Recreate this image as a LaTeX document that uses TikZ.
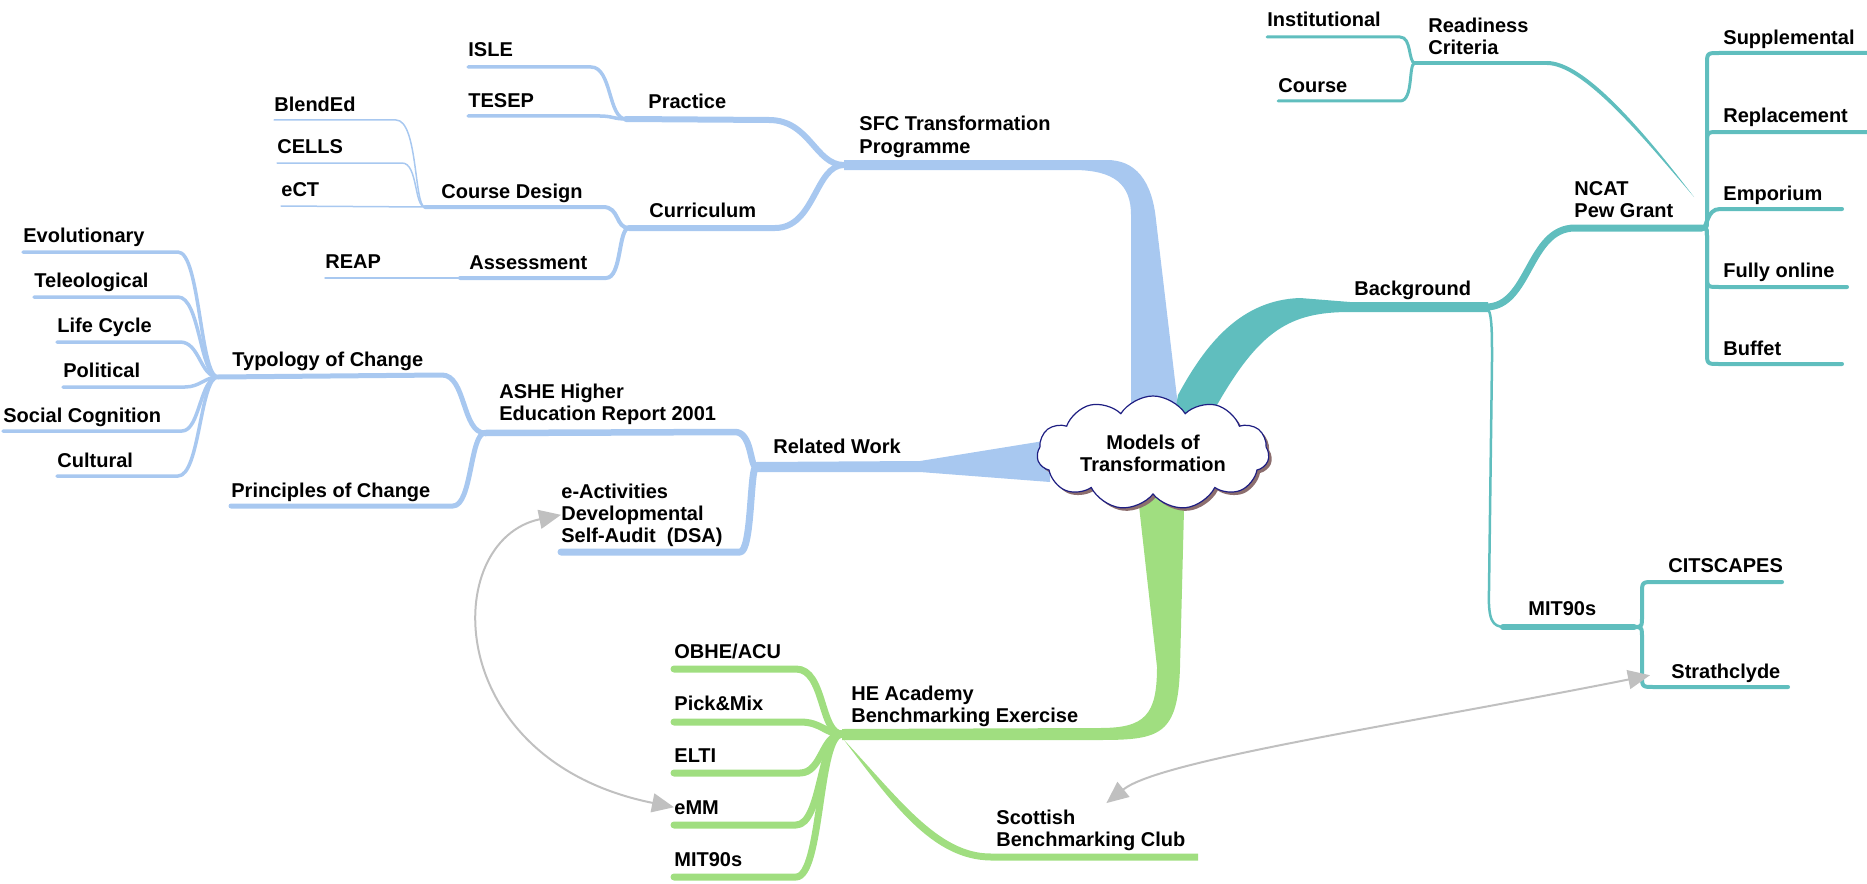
\documentclass[tikz,border=0pt]{standalone}
\usepackage{fontspec}
\setmainfont{Liberation Sans}
\usetikzlibrary{shapes.symbols,shadows,arrows.meta,calc}
\definecolor{mmblue}{RGB}{168,200,240}
\definecolor{mmteal}{RGB}{96,190,190}
\definecolor{mmgreen}{RGB}{160,222,128}
\definecolor{cloudline}{RGB}{30,30,130}
\definecolor{cloudshadow}{RGB}{140,110,110}
\definecolor{linkgray}{RGB}{192,192,192}
\tikzset{
  lbl/.style={font=\fontsize{10}{11}\selectfont\bfseries, inner sep=0pt, anchor=base west, align=left},
  brB/.style={draw=mmblue, line width=#1*0.5pt, line cap=round, line join=round},
  brT/.style={draw=mmteal, line width=#1*0.5pt, line cap=round, line join=round},
  brG/.style={draw=mmgreen, line width=#1*0.5pt, line cap=round, line join=round},
  link/.style={draw=linkgray, line width=1pt, {Triangle[length=11pt,width=9.5pt,fill=linkgray]}-{Triangle[length=11pt,width=9.5pt,fill=linkgray]}},
  rootcloud/.style={cloud, cloud puffs=11, cloud puff arc=115, cloud ignores aspect,
    minimum width=116pt, minimum height=57pt, inner sep=0pt, draw=cloudline, line width=0.6pt,
    fill=white, drop shadow={shadow xshift=1.5pt, shadow yshift=-1.5pt, fill=cloudshadow, opacity=1},
    font=\fontsize{10}{11}\selectfont\bfseries, align=center}
}
\begin{document}
\begin{tikzpicture}[x=0.5pt,y=-0.5pt]
\useasboundingbox (0,0) rectangle (1867,883);

% ---------- labels (base = baseline of last line) ----------
\node[lbl] (isle) at (468,57) {ISLE};
\node[lbl] (tesep) at (468,107) {TESEP};
\node[lbl] (practice) at (648,109) {Practice};
\node[lbl] (sfc) at (859,153) {SFC Transformation\\Programme};
\node[lbl] (blended) at (274,112) {BlendEd};
\node[lbl] (cells) at (277,154) {CELLS};
\node[lbl] (ect) at (281,196) {eCT};
\node[lbl] (coursedesign) at (441,198) {Course Design};
\node[lbl] (curriculum) at (649,217) {Curriculum};
\node[lbl] (reap) at (325,268) {REAP};
\node[lbl] (assessment) at (469,269) {Assessment};
\node[lbl] (evol) at (23,242) {Evolutionary};
\node[lbl] (teleo) at (34,287) {Teleological};
\node[lbl] (life) at (57,332) {Life Cycle};
\node[lbl] (political) at (63,377) {Political};
\node[lbl] (social) at (3,422) {Social Cognition};
\node[lbl] (cultural) at (57,467) {Cultural};
\node[lbl] (typology) at (232,366) {Typology of Change};
\node[lbl] (ashe) at (499,420) {ASHE Higher\\Education Report 2001};
\node[lbl] (related) at (773,453) {Related Work};
\node[lbl] (principles) at (231,497) {Principles of Change};
\node[lbl] (dsa) at (561,542) {e-Activities\\Developmental\\Self-Audit\ \ (DSA)};

\node[lbl] (institutional) at (1267,27) {Institutional};
\node[lbl] (course) at (1278,93) {Course};
\node[lbl] (readiness) at (1428,55) {Readiness\\Criteria};
\node[lbl] (supplemental) at (1723,45) {Supplemental};
\node[lbl] (replacement) at (1723,123) {Replacement};
\node[lbl] (emporium) at (1723,200) {Emporium};
\node[lbl] (fully) at (1723,277) {Fully online};
\node[lbl] (buffet) at (1723,355) {Buffet};
\node[lbl] (ncat) at (1574,217) {NCAT\\Pew Grant};
\node[lbl] (background) at (1354,295) {Background};
\node[lbl] (mitr) at (1528,615) {MIT90s};
\node[lbl] (citscapes) at (1668,572) {CITSCAPES};
\node[lbl] (strath) at (1671,678) {Strathclyde};

\node[lbl] (obhe) at (674,658) {OBHE/ACU};
\node[lbl] (pick) at (674,710) {Pick\&Mix};
\node[lbl] (elti) at (674,762) {ELTI};
\node[lbl] (emm) at (674,814) {eMM};
\node[lbl] (mitl) at (674,866) {MIT90s};
\node[lbl] (he) at (851,722) {HE Academy\\Benchmarking Exercise};
\node[lbl] (scot) at (996,846) {Scottish\\Benchmarking Club};

% ---------- junctions ----------
\coordinate (jPr) at (626,119);
\coordinate (jSF) at (844,165);
\coordinate (jCu) at (629,228);
\coordinate (jCD) at (425,207);
\coordinate (jTy) at (218,377);
\coordinate (jAs) at (485,433);
\coordinate (jRe) at (756,467);
\coordinate (jRd) at (1415,63);
\coordinate (jBg) at (1486,307);
\coordinate (jNc) at (1702,228);
\coordinate (jMi) at (1634,627);
\coordinate (jHe) at (842,734);

% ---------- blue branches ----------
\draw[brB=3.5] (468,67) -- (591,67) .. controls (612,67) and (608,119) .. (jPr);
\draw[brB=3.5] (468,116) -- (600,116) .. controls (612,116) and (614,119) .. (jPr);
\draw[brB=6] (jPr) -- (769,120) .. controls (810,120) and (815,165) .. (jSF);
\draw[brB=6] (jCu) -- (775,228) .. controls (815,228) and (815,165) .. (jSF);
\draw[brB=4] (jCD) -- (603,207) .. controls (620,207) and (615,228) .. (jCu);
\draw[brB=4] (460,278) -- (606,278) .. controls (622,278) and (618,228) .. (jCu);
\draw[brB=1.5] (325,278) -- (460,278);
\draw[brB=1.5] (274,120) -- (396,120) .. controls (418,120) and (414,207) .. (jCD);
\draw[brB=1.5] (277,163) -- (402,163) .. controls (418,163) and (414,207) .. (jCD);
\draw[brB=1.5] (281,206) -- (jCD);

\draw[brB=3.5] (23,252) -- (178,252) .. controls (200,252) and (200,377) .. (jTy);
\draw[brB=3.5] (34,297) -- (178,297) .. controls (200,297) and (200,377) .. (jTy);
\draw[brB=3.5] (57,342) -- (180,342) .. controls (200,342) and (200,377) .. (jTy);
\draw[brB=3.5] (63,387) -- (185,387) .. controls (200,387) and (205,377) .. (jTy);
\draw[brB=3.5] (3,431) -- (182,431) .. controls (200,431) and (200,377) .. (jTy);
\draw[brB=3.5] (57,476) -- (178,476) .. controls (200,476) and (200,377) .. (jTy);
\draw[brB=5] (jTy) -- (442,375) .. controls (466,375) and (462,433) .. (jAs);
\draw[brB=5] (231,506) -- (453,506) .. controls (472,506) and (470,433) .. (jAs);
\draw[brB=6.5] (jAs) -- (735,432) .. controls (752,432) and (750,467) .. (jRe);
\draw[brB=7] (561,552) -- (740,552) .. controls (752,552) and (750,467) .. (jRe);

% trunks
\fill[mmblue] (844,160) -- (1107,160) .. controls (1135,160) and (1152,180) .. (1156,220)
  -- (1182,440) -- (1131,440) -- (1131,215) .. controls (1131,185) and (1115,170) .. (1073,170)
  -- (844,170) -- cycle;
\fill[mmblue] (756,462) -- (920,461) -- (1050,440) -- (1050,482) -- (920,472) -- (756,472) -- cycle;

% ---------- teal branches ----------
\fill[mmteal] (1170,440) -- (1178,395) .. controls (1205,345) and (1240,300) .. (1300,298)
  -- (1350,302) -- (1488,302) -- (1488,312) -- (1350,312) .. controls (1290,312) and (1260,330) .. (1217,405)
  -- (1205,440) -- cycle;
\draw[brT=7] (jBg) .. controls (1530,307) and (1528,228) .. (1575,228) -- (jNc);
\draw[brT=2.5] (jBg) .. controls (1492,310) and (1492,330) .. (1492,360) -- (1489,590)
  .. controls (1488,620) and (1492,627) .. (1505,627);
\draw[brT=6] (1503,627) -- (jMi);
\draw[brT=4] (jMi) .. controls (1642,627) .. (1642,615) -- (1642,594) .. controls (1642,582) .. (1654,582) -- (1782,582);
\draw[brT=4] (jMi) .. controls (1642,627) .. (1642,639) -- (1642,675) .. controls (1642,687) .. (1654,687) -- (1788,687);

\draw[brT=4] (jNc) .. controls (1707,228) .. (1707,216) -- (1707,65) .. controls (1707,53) .. (1719,53) -- (1867,53);
\draw[brT=4] (jNc) .. controls (1707,228) .. (1707,216) -- (1707,144) .. controls (1707,132) .. (1719,132) -- (1867,132);
\draw[brT=4] (jNc) .. controls (1708,228) and (1706,209) .. (1720,209) -- (1842,209);
\draw[brT=4] (jNc) .. controls (1707,228) .. (1707,240) -- (1707,275) .. controls (1707,287) .. (1719,287) -- (1847,287);
\draw[brT=4] (jNc) .. controls (1707,228) .. (1707,240) -- (1707,352) .. controls (1707,364) .. (1719,364) -- (1842,364);

\draw[brT=4] (jRd) -- (1547,63);
\fill[mmteal] (1547,61) .. controls (1585,61) and (1645,133) .. (1694,197)
  .. controls (1643,137) and (1583,65) .. (1547,65) -- cycle;
\draw[brT=3] (1267,37) -- (1400,37) .. controls (1412,37) and (1408,63) .. (jRd);
\draw[brT=3] (1278,101) -- (1400,101) .. controls (1414,101) and (1408,63) .. (jRd);

% ---------- green branches ----------
\fill[mmgreen] (1135,470) -- (1185,470) -- (1180,667) .. controls (1178,735) and (1160,740) .. (1100,740)
  -- (842,740) -- (842,729) -- (1100,728) .. controls (1145,728) and (1157,715) .. (1157,667) -- cycle;
\draw[brG=7] (674,669) -- (796,669) .. controls (825,669) and (820,734) .. (jHe);
\draw[brG=7] (674,722) -- (800,722) .. controls (822,722) and (825,734) .. (jHe);
\draw[brG=7] (674,773) -- (800,773) .. controls (822,773) and (822,734) .. (jHe);
\draw[brG=7] (674,825) -- (796,825) .. controls (822,825) and (820,734) .. (jHe);
\draw[brG=7] (674,877) -- (796,877) .. controls (822,877) and (818,734) .. (jHe);
\fill[mmgreen] (844,740) .. controls (898,797) and (938,854) .. (991,853.5) -- (1198,853.5)
  -- (1198,860.5) -- (991,860.5) .. controls (932,860) and (892,803) .. (844,740) -- cycle;

% ---------- central topic ----------
\node[rootcloud] (root) at (1153,453) {Models of\\Transformation};

% ---------- cross links ----------
\draw[link] (dsa.west) .. controls (440,540) and (440,760) .. (emm.west);
\draw[link] ([xshift=-10.5pt,yshift=-1.2pt]strath.west) .. controls (1400,725) and (1160,760) .. ([xshift=7.75pt,yshift=3pt]scot.north);

\end{tikzpicture}
\end{document}
